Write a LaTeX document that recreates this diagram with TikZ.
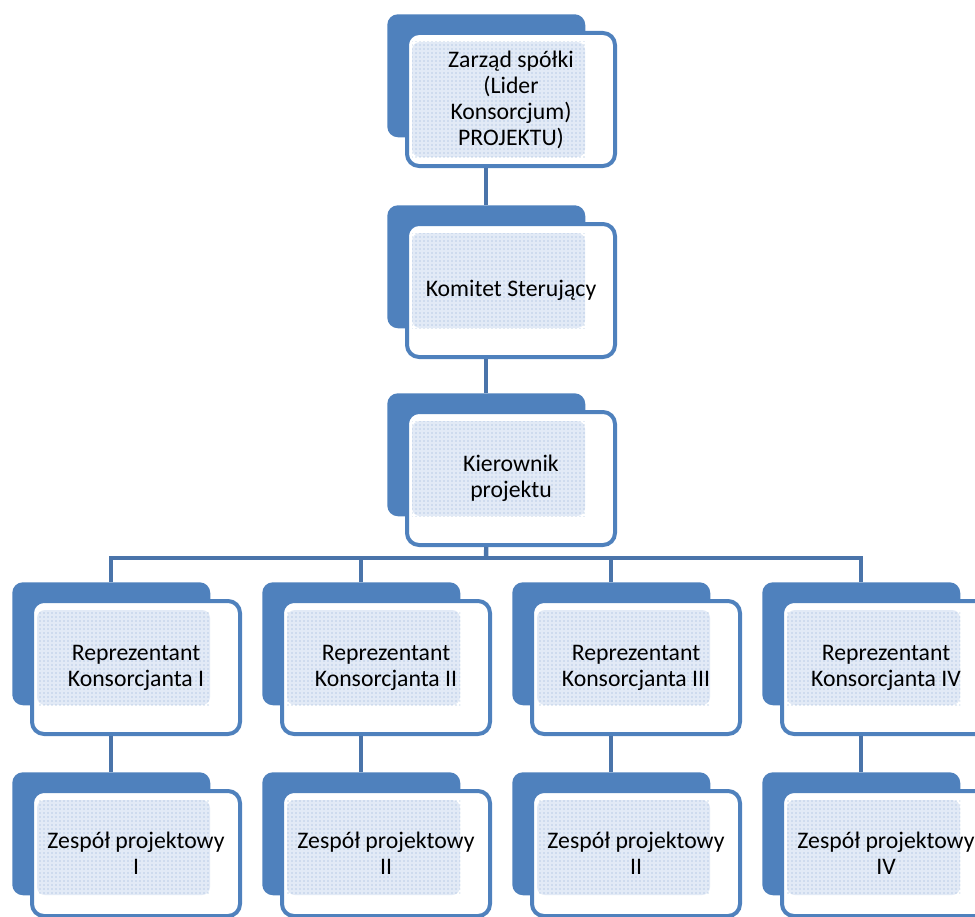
\documentclass[tikz,border=0pt]{standalone}
\usepackage{fontspec}
\setmainfont{Carlito}
\usepackage{tikz}
\usetikzlibrary{positioning, calc, patterns}
\definecolor{smblue}{RGB}{79,129,189}
\definecolor{linkblue}{RGB}{74,116,170}
\definecolor{dotbg}{RGB}{226,234,246}

% one chart box: back tab, white frame, dotted text area, label
% #1 extra depth of dotted area, #2 name, #3 x, #4 y, #5 frame height, #6 text
\newcommand{\orgbox}[6][0]{%
    \node[backbox] (#2-b) at (#3,#4) {};
    \node[frontbox, minimum height=#5] (#2) at (#3+18,#4+17) {};
    \fill[dotbg, rounded corners=6pt] ($(#2.north west)+(7,11)$) rectangle (#3+198,#4+123+#1);
    \fill[pattern=dots, pattern color=smblue!65] ($(#2.north west)+(7,11)$) rectangle (#3+198,#4+123+#1);
    \node[boxtext] (#2-t) at (#2.center) {#6};
}

\begin{document}
\begin{tikzpicture}[x=0.75pt, y=-0.75pt,
        every node/.style={font=\fontsize{17.8}{19.5}\selectfont},
        backbox/.style={fill=smblue, rounded corners=8pt, inner sep=0pt,
            minimum width=148.5pt, minimum height=92.25pt, anchor=north west},
        frontbox/.style={draw=smblue, fill=white, line width=3pt, rounded corners=9pt,
            inner sep=0pt, minimum width=156pt, anchor=north west},
        boxtext/.style={align=center, inner sep=0pt},
        link/.style={draw=linkblue, line width=3.3pt}]
    \useasboundingbox (0,0) rectangle (975,917);
    \clip (0,0) rectangle (975,917);

    \orgbox[20]{zarzad}{387}{14}{99.75pt}{Zarząd spółki\\(Lider\\Konsorcjum)\\PROJEKTU)}
    \orgbox{komitet}{387}{205}{99.75pt}{Komitet Sterujący}
    \orgbox{kierownik}{387}{393}{99.75pt}{Kierownik\\projektu}

    \foreach \i/\num/\zesp in {1/I/I, 2/II/II, 3/III/II, 4/IV/IV} {
        \pgfmathsetmacro{\bx}{12+250*(\i-1)}
        \orgbox{rep\i}{\bx}{582}{99.75pt}{Reprezentant\\Konsorcjanta \num}
        \orgbox{zesp\i}{\bx}{772}{93.75pt}{Zespół projektowy\\\zesp}
    }

    % connectors
    \coordinate (bus) at (486,558);
    \draw[link] (zarzad.south -| zarzad-b.south) -- (komitet-b.north);
    \draw[link] (komitet.south -| komitet-b.south) -- (kierownik-b.north);
    \draw[link] (kierownik.south -| kierownik-b.south) -- (bus);
    \draw[link] (rep1-b.north) |- (bus) -| (rep4-b.north);
    \draw[link] (rep2-b.north) -- (rep2-b.north |- bus);
    \draw[link] (rep3-b.north) -- (rep3-b.north |- bus);
    \foreach \i in {1,...,4} {
        \draw[link] (rep\i.south -| rep\i-b.south) -- (zesp\i-b.north);
    }
\end{tikzpicture}
\end{document}
